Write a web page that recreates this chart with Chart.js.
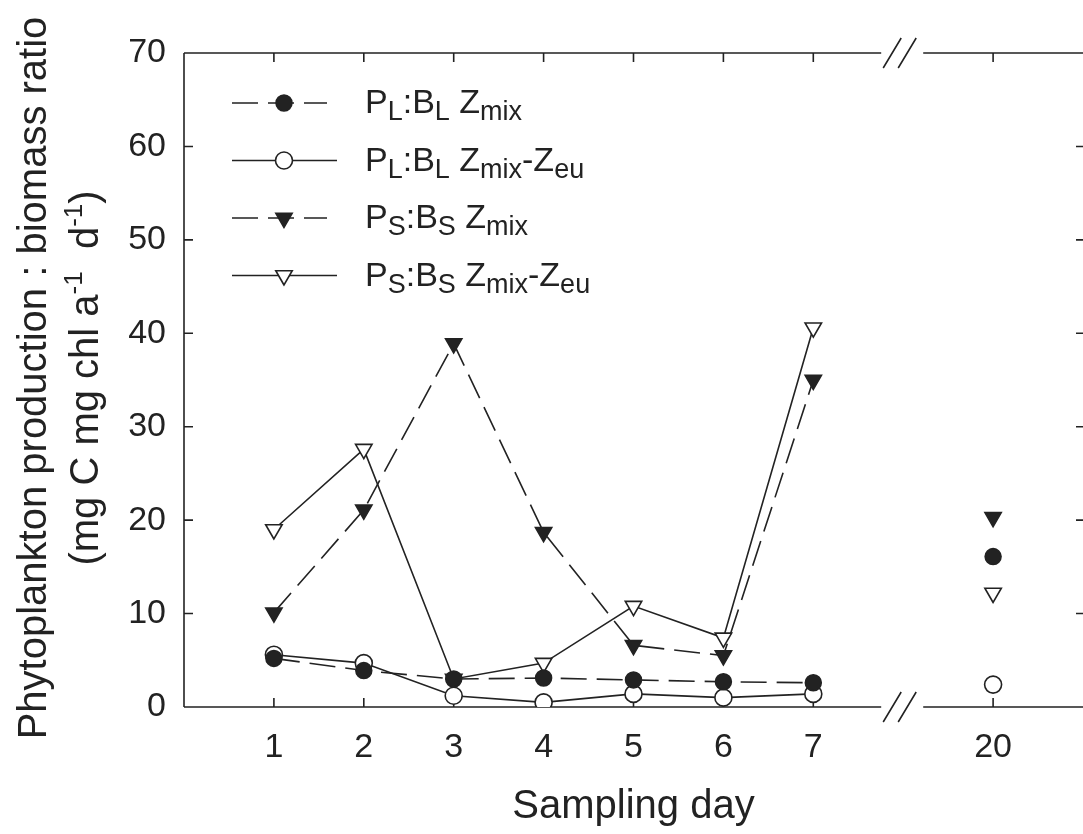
<!DOCTYPE html>
<html>
<head>
<meta charset="utf-8">
<script src="https://cdn.jsdelivr.net/npm/chart.js@4.4.1/dist/chart.umd.min.js"></script>
<style>
  body { margin: 0; background: #fff; overflow: hidden; }
  canvas { display: block; }
</style>
</head>
<body>
<canvas id="ratioChart" width="1083" height="834"></canvas>
<script>
var days = [1, 2, 3, 4, 5, 6, 7, 20];
var dayLabels = ['1', '2', '3', '4', '5', '6', '7', '20'];
var plZmix = [5.2, 3.9, 3.0, 3.1, 2.9, 2.7, 2.6, 16.1];
var plZmixZeu = [5.6, 4.7, 1.2, 0.5, 1.4, 1.0, 1.4, 2.4];
var psZmix = [10.1, 21.1, 38.9, 18.7, 6.6, 5.5, 35.0, 20.3];
var psZmixZeu = [19.0, 27.6, 3.0, 4.7, 10.8, 7.4, 40.6, 12.2];
var yTicks = [0, 10, 20, 30, 40, 50, 60, 70];

var ink = '#222';
var fontFam = '"Liberation Sans", Arial, Helvetica, sans-serif';

// broken x axis: days 1-7 keep their place, day 20 goes after the break
var breakAt = 8;
var dayPos = function(d){ return d > 7 ? 9 : d; };

var toPoints = function(vals){
    return days.map(function(d, i){ return { x: dayPos(d), y: vals[i] }; });
};

// no line across the break
var noBreakLine = function(c){
    return c.p1.parsed.x > breakAt ? 'rgba(0,0,0,0)' : undefined;
};

// legend texts, pieces are [text, 'sub'|'sup'|undefined]
var legendTexts = [
    [['P'], ['L', 'sub'], [':'], ['B'], ['L', 'sub'], [' Z'], ['mix', 'sub']],
    [['P'], ['L', 'sub'], [':'], ['B'], ['L', 'sub'], [' Z'], ['mix', 'sub'], ['-Z'], ['eu', 'sub']],
    [['P'], ['S', 'sub'], [':'], ['B'], ['S', 'sub'], [' Z'], ['mix', 'sub']],
    [['P'], ['S', 'sub'], [':'], ['B'], ['S', 'sub'], [' Z'], ['mix', 'sub'], ['-Z'], ['eu', 'sub']]
];
var yTitle1 = [['Phytoplankton production : biomass ratio']];
var yTitle2 = [['(mg C mg chl a'], ['-1', 'sup'], ['  d'], ['-1', 'sup'], [')']];

function pieceFont(p, size){
    if (p[1] === 'sub') return Math.round(size * 0.78) + 'px ' + fontFam;
    if (p[1] === 'sup') return Math.round(size * 0.64) + 'px ' + fontFam;
    return size + 'px ' + fontFam;
}

function richWidth(ctx, parts, size){
    var w = 0;
    parts.forEach(function(p){ ctx.font = pieceFont(p, size); w += ctx.measureText(p[0]).width; });
    return w;
}

function drawRich(ctx, parts, x, y, size){
    ctx.textBaseline = 'alphabetic';
    ctx.textAlign = 'left';
    parts.forEach(function(p){
        ctx.font = pieceFont(p, size);
        var dy = p[1] === 'sub' ? size * 0.22 : (p[1] === 'sup' ? -size * 0.4 : 0);
        ctx.fillText(p[0], x, y + dy);
        x += ctx.measureText(p[0]).width;
    });
}

var framePlugin = {
    id: 'frame',
    beforeDatasetsDraw: function(chart){
        var ctx = chart.ctx, a = chart.chartArea;
        var xs = chart.scales.x, ys = chart.scales.y;
        var bx = xs.getPixelForValue(breakAt);
        ctx.save();
        ctx.strokeStyle = ink;
        ctx.lineWidth = 1.6;
        ctx.beginPath();
        ctx.moveTo(a.left, a.top);
        ctx.lineTo(a.left, a.bottom);
        [a.top, a.bottom].forEach(function(y){
            ctx.moveTo(a.left, y); ctx.lineTo(bx - 22, y);
            ctx.moveTo(bx + 20, y); ctx.lineTo(a.right, y);
        });
        xs.ticks.forEach(function(t){
            var x = xs.getPixelForValue(t.value);
            ctx.moveTo(x, a.bottom); ctx.lineTo(x, a.bottom - 9);
            ctx.moveTo(x, a.top); ctx.lineTo(x, a.top + 9);
        });
        ys.ticks.forEach(function(t){
            var y = ys.getPixelForValue(t.value);
            ctx.moveTo(a.left, y); ctx.lineTo(a.left + 9, y);
            ctx.moveTo(a.right, y); ctx.lineTo(a.right - 7, y);
        });
        ctx.stroke();
        // break slashes
        ctx.beginPath();
        [a.top, a.bottom].forEach(function(y){
            [-11, 4].forEach(function(dx){
                ctx.moveTo(bx + dx - 9, y + 15);
                ctx.lineTo(bx + dx + 9, y - 15);
            });
        });
        ctx.stroke();
        ctx.restore();
    },
    afterDraw: function(chart){
        var ctx = chart.ctx, a = chart.chartArea;
        ctx.save();
        ctx.fillStyle = ink;
        // y title, two lines rotated
        var midY = 378;
        [[yTitle1, 46], [yTitle2, 98]].forEach(function(l){
            var w = richWidth(ctx, l[0], 40);
            ctx.save();
            ctx.translate(l[1], midY);
            ctx.rotate(-Math.PI / 2);
            drawRich(ctx, l[0], -w / 2, 0, 40);
            ctx.restore();
        });
        // legend
        chart.data.datasets.forEach(function(ds, i){
            var y = 103 + i * 57.5;
            ctx.save();
            ctx.strokeStyle = ink;
            ctx.lineWidth = 1.6;
            ctx.setLineDash(ds.borderDash || []);
            ctx.beginPath();
            ctx.moveTo(232, y);
            ctx.lineTo(ds.borderDash ? 327 : 337, y);
            ctx.stroke();
            ctx.setLineDash([]);
            ctx.fillStyle = ds.pointBackgroundColor;
            ctx.strokeStyle = ink;
            ctx.lineWidth = ds.pointBorderWidth;
            Chart.helpers.drawPoint(ctx, {
                pointStyle: ds.pointStyle,
                rotation: ds.pointRotation || 0,
                radius: ds.pointRadius,
                borderWidth: ds.pointBorderWidth
            }, 284, y);
            ctx.restore();
            drawRich(ctx, legendTexts[i], 365, y + 10, 34);
        });
        ctx.restore();
    }
};

var ctx = document.getElementById('ratioChart').getContext('2d');

var ratioChart = new Chart(ctx, {
    type: 'line',
    data: {
        datasets: [{
            label: 'PL:BL Zmix',
            data: toPoints(plZmix),
            borderColor: ink,
            borderWidth: 1.6,
            borderDash: [26, 10],
            pointStyle: 'circle',
            pointRadius: 8,
            pointBackgroundColor: ink,
            pointBorderColor: ink,
            pointBorderWidth: 1.5,
            segment: { borderColor: noBreakLine }
        }, {
            label: 'PL:BL Zmix-Zeu',
            data: toPoints(plZmixZeu),
            borderColor: ink,
            borderWidth: 1.6,
            pointStyle: 'circle',
            pointRadius: 8.5,
            pointBackgroundColor: '#fff',
            pointBorderColor: ink,
            pointBorderWidth: 1.6,
            segment: { borderColor: noBreakLine }
        }, {
            label: 'PS:BS Zmix',
            data: toPoints(psZmix),
            borderColor: ink,
            borderWidth: 1.6,
            borderDash: [26, 10],
            pointStyle: 'triangle',
            pointRotation: 180,
            pointRadius: 9.5,
            pointBackgroundColor: ink,
            pointBorderColor: ink,
            pointBorderWidth: 1.5,
            segment: { borderColor: noBreakLine }
        }, {
            label: 'PS:BS Zmix-Zeu',
            data: toPoints(psZmixZeu),
            borderColor: ink,
            borderWidth: 1.6,
            pointStyle: 'triangle',
            pointRotation: 180,
            pointRadius: 9.5,
            pointBackgroundColor: '#fff',
            pointBorderColor: ink,
            pointBorderWidth: 1.6,
            segment: { borderColor: noBreakLine }
        }]
    },
    options: {
        responsive: false,
        animation: false,
        devicePixelRatio: 1,
        layout: { autoPadding: false, padding: { top: 53, right: 0, left: 0, bottom: 0 } },
        plugins: {
            legend: { display: false },
            tooltip: { enabled: false }
        },
        scales: {
            x: {
                type: 'linear',
                min: 0,
                max: 10,
                afterBuildTicks: function(s){
                    s.ticks = days.map(function(d){ return { value: dayPos(d) }; });
                },
                afterFit: function(s){
                    s.height = 127;
                    s.paddingLeft = 0;
                    s.paddingRight = 0;
                },
                grid: { display: false, drawTicks: false },
                border: { display: false },
                ticks: {
                    padding: 20,
                    color: ink,
                    font: { family: fontFam, size: 34 },
                    callback: function(v){
                        var i = days.map(dayPos).indexOf(v);
                        return dayLabels[i];
                    }
                },
                title: {
                    display: true,
                    text: 'Sampling day',
                    color: ink,
                    font: { family: fontFam, size: 40 },
                    padding: { top: 0, bottom: 3 }
                }
            },
            y: {
                min: 0,
                max: 70,
                afterBuildTicks: function(s){
                    s.ticks = yTicks.map(function(v){ return { value: v }; });
                },
                afterFit: function(s){ s.width = 184; },
                grid: { display: false, drawTicks: false },
                border: { display: false },
                ticks: {
                    padding: 18,
                    color: ink,
                    font: { family: fontFam, size: 34 }
                }
            }
        }
    },
    plugins: [framePlugin]
});
</script>
</body>
</html>
